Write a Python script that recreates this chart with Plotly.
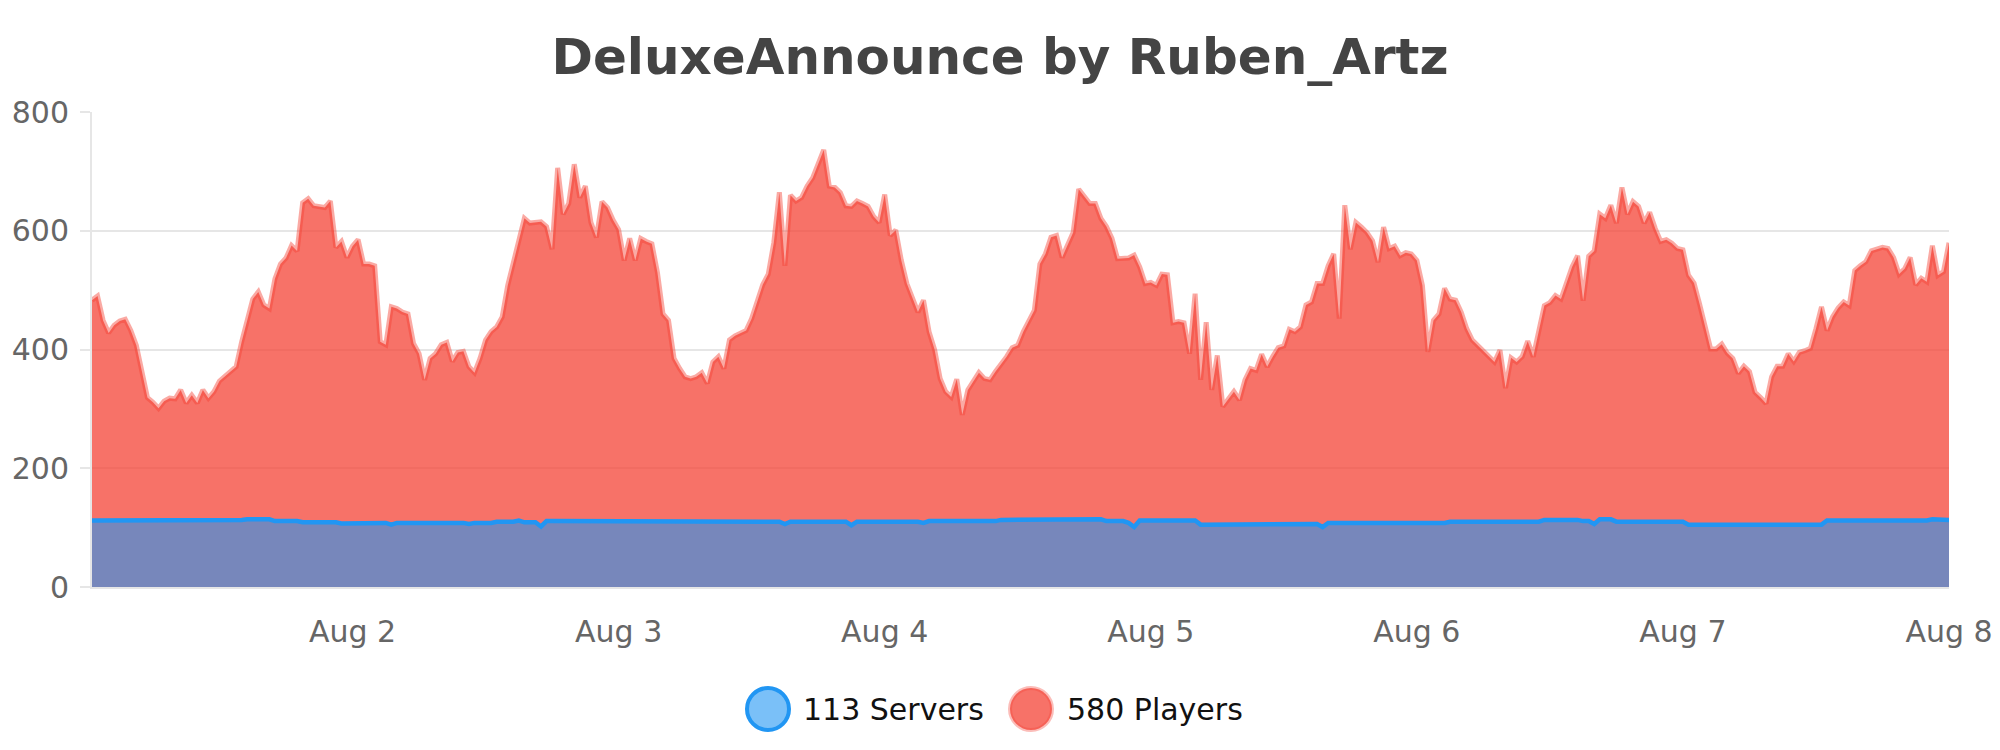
import pandas as pd
import plotly.graph_objects as go

# half-hour samples, Aug 1 00:30 -> Aug 8 00:00
start = "2023-08-01 00:30"
n_points = 336
times = pd.date_range(start, periods=n_points, freq="30min")

players = [
    483, 490, 449, 428, 441, 448, 451, 432, 407, 365,
    319, 311, 301, 313, 318, 317, 332, 310, 323, 310,
    332, 318, 329, 347, 355, 362, 371, 413, 449, 485,
    497, 475, 469, 519, 544, 554, 575, 566, 647, 654,
    642, 641, 639, 650, 572, 582, 555, 574, 585, 544,
    544, 541, 413, 408, 472, 469, 463, 460, 410, 393,
    349, 385, 393, 408, 412, 380, 395, 397, 371, 361,
    385, 416, 430, 438, 455, 508, 544, 586, 621, 613,
    613, 615, 607, 569, 706, 628, 646, 712, 656, 675,
    614, 589, 649, 639, 618, 602, 550, 587, 550, 587,
    582, 578, 530, 460, 449, 385, 368, 354, 351, 354,
    361, 343, 379, 388, 368, 416, 423, 427, 432, 452,
    483, 509, 527, 580, 665, 541, 660, 650, 656, 675,
    689, 712, 736, 675, 673, 664, 642, 641, 650, 646,
    641, 624, 614, 661, 592, 601, 550, 511, 488, 463,
    483, 430, 400, 351, 329, 320, 350, 290, 332, 347,
    361, 351, 349, 363, 374, 388, 403, 407, 430, 449,
    466, 544, 561, 589, 592, 555, 575, 597, 670, 659,
    646, 646, 621, 607, 587, 553, 553, 554, 559, 539,
    511, 513, 508, 527, 526, 445, 447, 445, 393, 494,
    349, 446, 332, 390, 304, 315, 329, 315, 349, 368,
    365, 392, 371, 388, 403, 406, 434, 430, 438, 475,
    480, 511, 511, 541, 561, 452, 643, 569, 614, 606,
    597, 583, 547, 606, 570, 574, 558, 563, 561, 550,
    508, 396, 449, 460, 503, 485, 483, 463, 435, 416,
    406, 396, 388, 379, 399, 335, 386, 379, 388, 414,
    388, 431, 474, 479, 491, 485, 515, 539, 558, 482,
    557, 566, 628, 621, 643, 613, 673, 628, 649, 641,
    613, 631, 604, 582, 585, 579, 570, 568, 525, 512,
    477, 435, 401, 401, 409, 394, 385, 360, 372, 363,
    328, 319, 309, 354, 372, 372, 393, 380, 395, 398,
    402, 435, 472, 432, 455, 470, 480, 474, 533, 541,
    548, 566, 568, 572, 570, 555, 527, 536, 555, 509,
    520, 514, 575, 525, 531, 580,
]

servers = [
    112, 112, 112, 112, 112, 112, 112, 112, 112, 112,
    112, 112, 112, 112, 112, 112, 112, 112, 112, 112,
    113, 113, 113, 113, 113, 113, 113, 113, 114, 114,
    114, 114, 114, 111, 111, 111, 111, 111, 109, 109,
    109, 109, 109, 109, 109, 107, 107, 108, 108, 108,
    108, 108, 108, 108, 105, 108, 108, 108, 108, 108,
    108, 108, 108, 108, 108, 108, 108, 108, 106, 108,
    108, 108, 108, 110, 110, 110, 110, 112, 109, 109,
    109, 102, 111, 111, 111, 111, 111, 110, 110, 110,
    110, 110, 110, 110, 110, 110, 110, 110, 110, 110,
    110, 110, 110, 110, 110, 110, 110, 110, 110, 110,
    110, 110, 110, 110, 110, 110, 110, 110, 110, 110,
    110, 110, 110, 110, 110, 106, 110, 110, 110, 110,
    110, 110, 110, 110, 110, 110, 110, 104, 110, 110,
    110, 110, 110, 110, 110, 110, 110, 110, 110, 110,
    108, 111, 111, 111, 111, 111, 111, 111, 111, 111,
    111, 111, 111, 111, 113, 113, 113, 113, 113, 113,
    113, 113, 113, 113, 113, 113, 113, 114, 114, 114,
    114, 114, 114, 111, 111, 111, 111, 108, 101, 112,
    112, 112, 112, 112, 112, 112, 112, 112, 112, 112,
    105, 105, 105, 105, 105, 105, 105, 105, 105, 105,
    105, 105, 105, 105, 105, 105, 105, 105, 105, 105,
    105, 106, 101, 108, 108, 108, 108, 108, 108, 108,
    108, 108, 108, 108, 108, 108, 108, 108, 108, 108,
    108, 108, 108, 108, 108, 110, 110, 110, 110, 110,
    110, 110, 110, 110, 110, 110, 110, 110, 110, 110,
    110, 110, 113, 113, 113, 113, 113, 113, 113, 111,
    111, 106, 114, 114, 114, 110, 110, 110, 110, 110,
    110, 110, 110, 110, 110, 110, 110, 110, 105, 105,
    105, 105, 105, 105, 105, 105, 105, 105, 105, 105,
    105, 105, 105, 105, 105, 105, 105, 105, 105, 105,
    105, 105, 105, 112, 112, 112, 112, 112, 112, 112,
    112, 112, 112, 112, 112, 112, 112, 112, 112, 112,
    112, 112, 114, 114, 114, 113,
]

title = "DeluxeAnnounce by Ruben_Artz"
y_ticks = [0, 200, 400, 600, 800]

FONT = "DejaVu Sans"
W, H = 2000, 750
PAGE = 8  # the html body adds 8px around the figure
# wanted plot box on the page: x 92..1949, y 112..587
L = 92 - PAGE
T = 112 - PAGE
R = W - (1949 - PAGE)
B = H - (587 - PAGE)

fig = go.Figure()

# players first, servers drawn over it
fig.add_trace(go.Scatter(
    x=times, y=players, mode="lines", fill="tozeroy",
    fillcolor="rgba(244,67,54,0.75)",
    line=dict(color="rgba(244,67,54,0.45)", width=5),
    name="Players", showlegend=False,
))
fig.add_trace(go.Scatter(
    x=times, y=servers, mode="lines", fill="tozeroy",
    fillcolor="rgba(33,150,243,0.6)",
    line=dict(color="rgb(33,150,243)", width=4.5),
    name="Servers", showlegend=False,
))

# hand-made legend: big round markers like the original (page pixels)
def px_x(p):
    return (p - PAGE - L) / (W - L - R)

def px_y(p):
    return (H - B - (p - PAGE)) / (H - T - B)

legend_items = [
    (f"{servers[-1]} Servers", "rgba(33,150,243,0.6)", "rgb(33,150,243)", 4, 768, 801),
    (f"{players[-1]} Players", "rgba(244,67,54,0.75)", "rgba(244,67,54,0.35)", 4, 1031, 1065),
]
legend_y = 709
shapes = []
annotations = []
for text, fill, edge, ew, cx, tx in legend_items:
    shapes.append(dict(
        type="circle", xref="paper", yref="paper",
        xsizemode="pixel", ysizemode="pixel",
        xanchor=px_x(cx), yanchor=px_y(legend_y),
        x0=-21, x1=21, y0=-21, y1=21,
        fillcolor=fill, line=dict(color=edge, width=ew),
    ))
    annotations.append(dict(
        text=text, xref="paper", yref="paper",
        x=px_x(tx), y=px_y(legend_y), xanchor="left", yanchor="middle",
        showarrow=False, font=dict(family=FONT, size=30, color="#111111"),
    ))

fig.update_layout(
    width=W, height=H,
    margin=dict(l=L, r=R, t=T, b=B),
    paper_bgcolor="white", plot_bgcolor="white",
    title=dict(
        text=f"<b>{title}</b>", x=(1000 - PAGE) / W, xanchor="center",
        y=1 - (56 - PAGE) / H, yanchor="middle",
        font=dict(family=FONT, size=50, color="#444444"),
    ),
    font=dict(family=FONT),
    shapes=shapes,
    annotations=annotations,
    showlegend=False,
)

fig.update_xaxes(
    type="date", automargin=False,
    range=[times[0], times[-1]],
    dtick=86400000, tick0="2023-08-01",
    tickformat="%b %-d",
    showgrid=False, zeroline=False,
    showline=True, linecolor="#e6e6e6", linewidth=2,
    ticks="", ticklabelstandoff=17,
    tickfont=dict(family=FONT, size=30, color="#666666"),
)
fig.update_yaxes(
    automargin=False,
    range=[0, 800], tickvals=y_ticks,
    showgrid=True, gridcolor="#e6e6e6", gridwidth=2,
    zeroline=False,
    showline=True, linecolor="#e6e6e6", linewidth=2,
    ticks="outside", ticklen=10, tickcolor="#e6e6e6", tickwidth=2,
    ticklabelstandoff=5,
    tickfont=dict(family=FONT, size=30, color="#666666"),
)

fig.write_html("out.html")
